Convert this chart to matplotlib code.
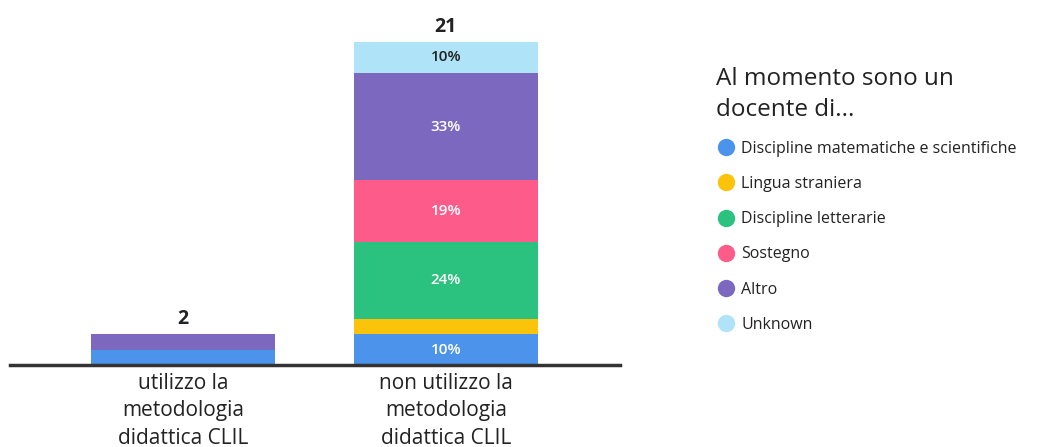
import numpy as np
import matplotlib.pyplot as plt
from matplotlib.lines import Line2D

plt.rcParams['font.family'] = ['Open Sans', 'DejaVu Sans']

# risposte per gruppo
gruppi = ['utilizzo la\nmetodologia\ndidattica CLIL', 'non utilizzo la\nmetodologia\ndidattica CLIL']
categorie = ['Discipline matematiche e scientifiche', 'Lingua straniera', 'Discipline letterarie',
             'Sostegno', 'Altro', 'Unknown']
matematiche = [1, 2]
lingua = [0, 1]
letterarie = [0, 5]
sostegno = [0, 4]
altro = [1, 7]
unknown = [0, 2]
colori = ['#4c94eb', '#fcc30b', '#2bc17e', '#fd5b8a', '#7d68bf', '#aee3f8']

serie = [matematiche, lingua, letterarie, sostegno, altro, unknown]
totali = np.sum(serie, axis=0)

fig = plt.figure(figsize=(10.4, 4.47), dpi=100)
ax = fig.add_axes([0.0, 0.1834, 0.596, 0.7226])
x = np.arange(len(gruppi))
base = np.zeros(len(gruppi))
for vals, col, nome in zip(serie, colori, categorie):
    vals = np.array(vals, dtype=float)
    ax.bar(x, vals, bottom=base, width=0.70, color=col, linewidth=0)
    for i, v in enumerate(vals):
        pct = v / totali[i] * 100
        # etichette percentuali solo sulla barra grande
        if totali[i] > 5 and pct >= 9.5:
            tc = '#222222' if nome == 'Unknown' else 'white'
            ax.text(x[i], base[i] + v / 2, f'{pct:.0f}%', ha='center', va='center',
                    fontsize=11, color=tc, fontweight='semibold')
    base += vals

for i, t in enumerate(totali):
    ax.text(x[i], t + 0.35, str(t), ha='center', va='bottom', fontsize=14,
            fontweight='bold', color='#222222', clip_on=False)

ax.set_xlim(-0.696, 1.662)
ax.set_ylim(0, 21)
ax.axhline(0, color='#333333', linewidth=2.5, xmin=0.016, xmax=1.0, clip_on=False)
for s in ax.spines.values():
    s.set_visible(False)
ax.set_yticks([])
ax.set_xticks(x)
ax.set_xticklabels(gruppi, fontsize=15, color='#222222', linespacing=1.38)
ax.tick_params(axis='x', length=0, pad=6)

fig.text(0.688, 0.85, 'Al momento sono un\ndocente di...', fontsize=17.5, color='#222222',
         ha='left', va='top', linespacing=1.36)
handles = [Line2D([], [], marker='o', linestyle='', markersize=12.5, markerfacecolor=c,
                  markeredgewidth=0) for c in colori]
fig.legend(handles, categorie, loc='upper left', bbox_to_anchor=(0.676, 0.717),
           frameon=False, fontsize=11.5, labelspacing=1.2, handletextpad=0.4,
           handlelength=1.1, labelcolor='#222222')

fig.savefig('out.png', dpi=100)
